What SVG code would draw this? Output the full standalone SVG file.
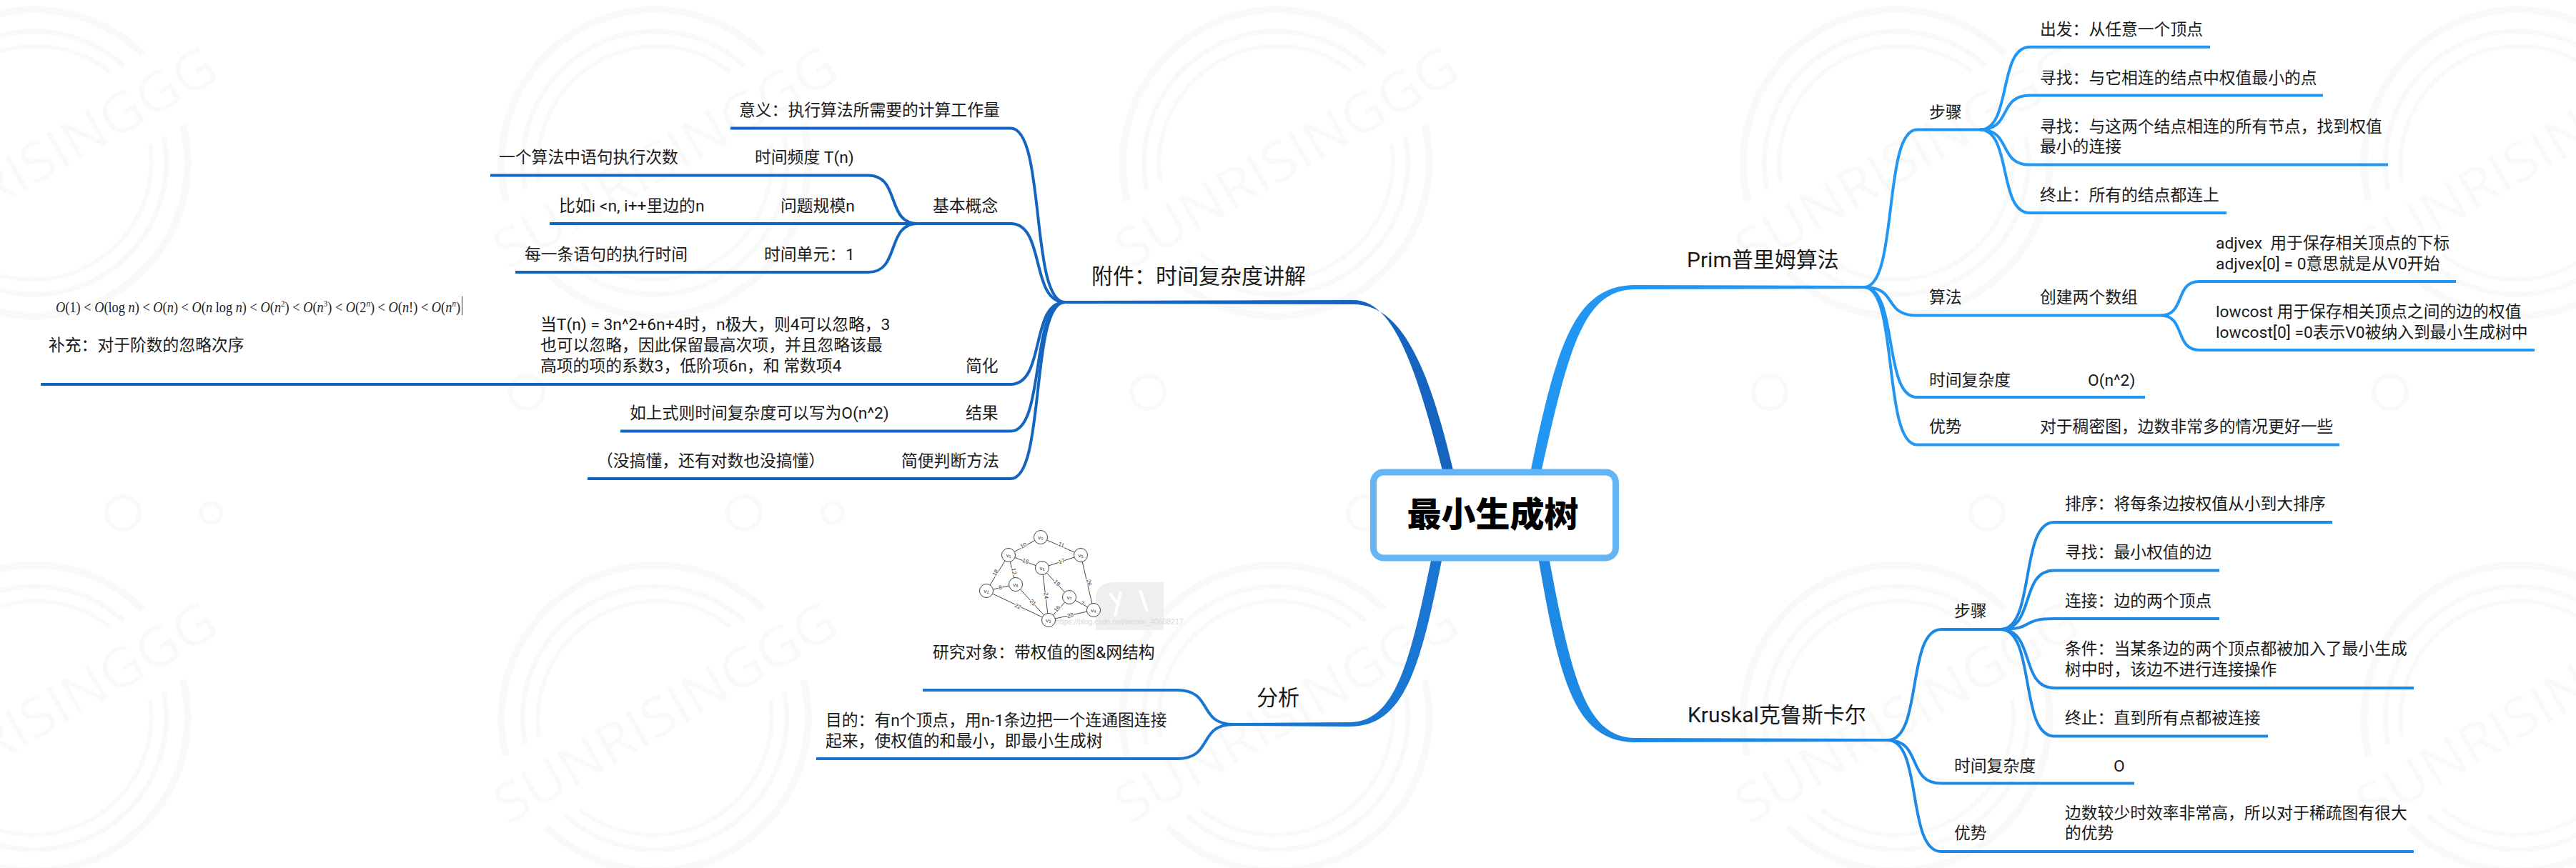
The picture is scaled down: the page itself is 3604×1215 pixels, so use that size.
<svg xmlns="http://www.w3.org/2000/svg" xmlns:xlink="http://www.w3.org/1999/xlink" width="3604" height="1215" viewBox="0 0 3604 1215">
<style>
text{font-family:Roboto,"Noto Sans CJK SC","Noto Sans",sans-serif;fill:#1a1a1a}
.t{font-size:22.8px}
.h{font-size:30px}
.r{font-size:48px;font-weight:900;text-anchor:middle;fill:#000}
.wm path,.wm circle{fill:none;stroke:#f9f9f9;stroke-linecap:butt}
.wm text{font-family:"Open Sans",sans-serif;font-size:76px;fill:#f9f9f9;text-anchor:middle}
.c{fill:none;stroke-width:4}
.a{stroke:#1565c0}.p{stroke:#2196f3}.k{stroke:#1e88e5}.f{stroke:#1976d2}
.g line{stroke:#444;stroke-width:1}
.g circle{fill:#fff;stroke:#444;stroke-width:1}
.g text{font-family:"Liberation Sans",sans-serif;font-size:8px;fill:#333;text-anchor:middle}
.g .e{paint-order:stroke;stroke:#fff;stroke-width:2px}
.fm{font-family:"Liberation Serif",serif;font-size:20px;fill:#222}
.fm .i{font-style:italic}
.fm .s{font-size:12px}
</style>
<defs>
<g id="wmt" class="wm">
<path stroke-width="10" d="M-208,53A215,215 0 0 1 152,-152M208,-53A215,215 0 0 1 -152,152"/>
<path stroke-width="7" d="M-181,37A185,185 0 0 1 125,-136M181,-37A185,185 0 0 1 -125,136"/>
<path stroke-width="6" d="M-162,26A166,166 0 0 1 105,-128M162,-26A166,166 0 0 1 -105,128"/>
<text transform="translate(15,-7) rotate(-30)" y="26" textLength="540" lengthAdjust="spacingAndGlyphs">SUNRISINGGG</text>
</g>
<circle id="wmo" class="wm" r="23" style="fill:none;stroke:#f9f9f9;stroke-width:6"/>
<circle id="wmq" class="wm" r="14" style="fill:none;stroke:#f9f9f9;stroke-width:6"/>
</defs>
<rect width="3604" height="1215" fill="#fff"/>
<g id="watermark">
<use href="#wmt" x="48" y="228"/><use href="#wmt" x="916" y="228"/><use href="#wmt" x="1785" y="228"/><use href="#wmt" x="2653" y="228"/><use href="#wmt" x="3522" y="228"/>
<use href="#wmt" x="48" y="1005"/><use href="#wmt" x="916" y="1005"/><use href="#wmt" x="1785" y="1005"/><use href="#wmt" x="2653" y="1005"/><use href="#wmt" x="3522" y="1005"/>
<use href="#wmo" x="737" y="549"/><use href="#wmo" x="1606" y="549"/><use href="#wmo" x="2476" y="549"/><use href="#wmo" x="3344" y="549"/>
<use href="#wmo" x="172" y="718"/><use href="#wmo" x="1041" y="718"/><use href="#wmo" x="1909" y="718"/><use href="#wmo" x="2780" y="718"/>
<use href="#wmq" x="295" y="718"/><use href="#wmq" x="1165" y="718"/>
</g>
<g id="connectors">
<path fill="#1565c0" d="M2019,662C1979,505 1948,420 1893,420L1490,421V425L1893,426C1955,426 1995,495 2034,662Z"/>
<path fill="#2196f3" d="M2141,662C2178,480 2204,399 2288,399L2608,400V404L2288,405C2216,405 2195,485 2156,662Z"/>
<path fill="#1e88e5" d="M2152,780C2182,955 2204,1039 2288,1039L2641,1038V1034L2288,1033C2218,1033 2198,945 2167,780Z"/>
<path fill="#1976d2" d="M2003,780C1973,925 1953,1011 1888,1011L1726,1012V1016L1888,1017C1965,1017 1987,935 2018,780Z"/>
<g class="a">
<path class="c" d="M1022,179.5H1414C1463,179.5 1441,423 1490,423"/>
<path class="c" d="M1284,313H1414C1463,313 1441,423 1490,423"/>
<path class="c" d="M57,538H1414C1463,538 1441,423 1490,423"/>
<path class="c" d="M868,603.5H1414C1463,603.5 1441,423 1490,423"/>
<path class="c" d="M822,670H1414C1463,670 1441,423 1490,423"/>
<path class="c" d="M686,245.5H1215C1260,245.5 1239,313 1284,313"/>
<path class="c" d="M769,313H1284"/>
<path class="c" d="M721,381H1215C1260,381 1239,313 1284,313"/>
</g>
<g class="f">
<path class="c" d="M1291,966H1647C1698,966 1675,1014 1726,1014"/>
<path class="c" d="M1142,1062H1647C1698,1062 1675,1014 1726,1014"/>
</g>
<g class="p">
<path class="c" d="M2608,402C2656,402 2634,181.6 2682,181.6H2770"/>
<path class="c" d="M2608,402C2656,402 2634,441.6 2682,441.6H3023"/>
<path class="c" d="M2608,402C2656,402 2634,556 2682,556H3001"/>
<path class="c" d="M2608,402C2656,402 2634,622.5 2682,622.5H3273"/>
<path class="c" d="M2770,181.6C2815,181.6 2795,65.7 2840,65.7H3092"/>
<path class="c" d="M2770,181.6C2815,181.6 2795,133.5 2840,133.5H3250"/>
<path class="c" d="M2770,181.6C2815,181.6 2795,230.6 2840,230.6H3341"/>
<path class="c" d="M2770,181.6C2815,181.6 2795,298 2840,298H3115"/>
<path class="c" d="M3023,441.6C3058,441.6 3042,394 3077,394H3436"/>
<path class="c" d="M3023,441.6C3058,441.6 3042,490 3077,490H3546"/>
</g>
<g class="k">
<path class="c" d="M2641,1036C2690,1036 2667,881 2716,881H2799"/>
<path class="c" d="M2641,1036C2690,1036 2667,1096.5 2716,1096.5H2986"/>
<path class="c" d="M2641,1036C2690,1036 2667,1192 2716,1192H3377"/>
<path class="c" d="M2799,881C2848,881 2825,731 2874,731H3263"/>
<path class="c" d="M2799,881C2848,881 2825,798.4 2874,798.4H3105"/>
<path class="c" d="M2799,881C2848,881 2825,866 2874,866H3105"/>
<path class="c" d="M2799,881C2848,881 2825,963 2874,963H3377"/>
<path class="c" d="M2799,881C2848,881 2825,1030.5 2874,1030.5H3173"/>
</g>
</g>
<g id="root">
<rect x="1921.5" y="661" width="339" height="120" rx="14" fill="#fff" stroke="#64b5f6" stroke-width="9"/>
<text class="r" x="2088.5" y="737">最小生成树</text>
</g>
<g id="n-fujian"><text class="h" x="1527" y="397">附件：时间复杂度讲解</text></g>
<g id="n-yiyi"><text class="t" x="1034" y="162">意义：执行算法所需要的计算工作量</text></g>
<g id="n-jiben"><text class="t" x="1305" y="296">基本概念</text></g>
<g id="n-pindu"><text class="t" x="1056" y="228">时间频度 T(n)</text></g>
<g id="n-pindu2"><text class="t" x="698" y="228">一个算法中语句执行次数</text></g>
<g id="n-guimo"><text class="t" x="1092" y="296">问题规模n</text></g>
<g id="n-guimo2"><text class="t" x="782" y="296">比如i &lt;n, i++里边的n</text></g>
<g id="n-danyuan"><text class="t" x="1069" y="364">时间单元：1</text></g>
<g id="n-danyuan2"><text class="t" x="734" y="364">每一条语句的执行时间</text></g>
<g id="n-jianhua"><text class="t" x="1351" y="520">简化</text></g>
<g id="n-jianhua2"><text class="t" x="756" y="462">当T(n) = 3n^2+6n+4时，n极大，则4可以忽略，3</text><text class="t" x="756" y="491">也可以忽略，因此保留最高次项，并且忽略该最</text><text class="t" x="756" y="520">高项的项的系数3，低阶项6n，和 常数项4</text></g>
<g id="n-buchong">
<text class="fm" x="78" y="437" textLength="566" lengthAdjust="spacingAndGlyphs"><tspan class="i">O</tspan>(1) &lt; <tspan class="i">O</tspan>(log <tspan class="i">n</tspan>) &lt; <tspan class="i">O</tspan>(<tspan class="i">n</tspan>) &lt; <tspan class="i">O</tspan>(<tspan class="i">n</tspan> log <tspan class="i">n</tspan>) &lt; <tspan class="i">O</tspan>(<tspan class="i">n</tspan><tspan class="s" dy="-8">2</tspan><tspan dy="8">) &lt; </tspan><tspan class="i">O</tspan>(<tspan class="i">n</tspan><tspan class="s" dy="-8">3</tspan><tspan dy="8">) &lt; </tspan><tspan class="i">O</tspan>(2<tspan class="s i" dy="-8">n</tspan><tspan dy="8">) &lt; </tspan><tspan class="i">O</tspan>(<tspan class="i">n</tspan>!) &lt; <tspan class="i">O</tspan>(<tspan class="i">n</tspan><tspan class="s i" dy="-8">n</tspan><tspan dy="8">)</tspan></text>
<rect x="646" y="415" width="1" height="26" fill="#333"/>
<text class="t" x="68" y="491">补充：对于阶数的忽略次序</text>
</g>
<g id="n-jieguo"><text class="t" x="1351" y="586">结果</text></g>
<g id="n-jieguo2"><text class="t" x="881" y="586">如上式则时间复杂度可以写为O(n^2)</text></g>
<g id="n-jianbian"><text class="t" x="1261" y="653">简便判断方法</text></g>
<g id="n-jianbian2"><text class="t" x="835" y="653">（没搞懂，还有对数也没搞懂）</text></g>
<g id="n-fenxi"><text class="h" x="1758" y="987">分析</text></g>
<g id="n-duixiang">
<g class="g" id="graph-picture">
<path d="M1533,882V835Q1535,815 1560,815H1628V882Z" fill="#efefef" stroke="none"/>
<path d="M1552,830l14,18M1568,828l-8,34M1595,826l10,30" fill="none" stroke="#fff" stroke-width="4"/>
<line x1="1456" y1="752" x2="1411" y2="777"/><line x1="1456" y1="752" x2="1512" y2="777"/><line x1="1411" y1="777" x2="1458" y2="795"/><line x1="1512" y1="777" x2="1458" y2="795"/><line x1="1411" y1="777" x2="1380" y2="827"/><line x1="1411" y1="777" x2="1421" y2="818"/><line x1="1380" y1="827" x2="1421" y2="818"/><line x1="1380" y1="827" x2="1467" y2="868"/><line x1="1421" y1="818" x2="1467" y2="868"/><line x1="1458" y1="795" x2="1467" y2="868"/><line x1="1458" y1="795" x2="1496" y2="836"/><line x1="1496" y1="836" x2="1467" y2="868"/><line x1="1496" y1="836" x2="1530" y2="854"/><line x1="1467" y1="868" x2="1530" y2="854"/><line x1="1512" y1="777" x2="1530" y2="854"/>
<circle cx="1456" cy="752" r="9.5"/><circle cx="1411" cy="777" r="9.5"/><circle cx="1512" cy="777" r="9.5"/><circle cx="1458" cy="795" r="9.5"/><circle cx="1380" cy="827" r="9.5"/><circle cx="1421" cy="818" r="9.5"/><circle cx="1496" cy="836" r="9.5"/><circle cx="1530" cy="854" r="9.5"/><circle cx="1467" cy="868" r="9.5"/>
<text x="1456" y="755">v₀</text><text x="1411" y="780">v₁</text><text x="1512" y="780">v₅</text><text x="1458" y="798">v₆</text><text x="1380" y="830">v₂</text><text x="1421" y="821">v₈</text><text x="1496" y="839">v₇</text><text x="1530" y="857">v₄</text><text x="1467" y="871">v₃</text>
<text class="e" transform="translate(1433,766) rotate(-25)">10</text><text class="e" transform="translate(1484,765) rotate(20)">11</text><text class="e" transform="translate(1434,788) rotate(18)">16</text><text class="e" transform="translate(1486,788) rotate(-18)">17</text><text class="e" transform="translate(1395,803) rotate(-60)">18</text><text class="e" transform="translate(1416,800) rotate(80)">12</text><text class="e" transform="translate(1400,825) rotate(-12)">8</text><text class="e" transform="translate(1423,851) rotate(25)">22</text><text class="e" transform="translate(1443,845) rotate(48)">21</text><text class="e" transform="translate(1461,834) rotate(85)">24</text><text class="e" transform="translate(1477,818) rotate(45)">19</text><text class="e" transform="translate(1481,854) rotate(-48)">16</text><text class="e" transform="translate(1513,847) rotate(28)">7</text><text class="e" transform="translate(1498,864) rotate(-12)">20</text><text class="e" transform="translate(1521,816) rotate(76)">26</text>
<text x="1477" y="874" style="font-size:10.5px;text-anchor:start;fill:#d8d8d8">https://blog.csdn.net/weixin_40688217</text>
</g>
<text class="t" x="1305" y="921">研究对象：带权值的图&amp;网结构</text>
</g>
<g id="n-mudi"><text class="t" x="1155" y="1016">目的：有n个顶点，用n-1条边把一个连通图连接</text><text class="t" x="1155" y="1045">起来，使权值的和最小，即最小生成树</text></g>
<g id="n-prim"><text class="h" x="2360" y="374">Prim普里姆算法</text></g>
<g id="n-p-buzhou"><text class="t" x="2699" y="165">步骤</text></g>
<g id="n-p-chufa"><text class="t" x="2854" y="49">出发：从任意一个顶点</text></g>
<g id="n-p-xun1"><text class="t" x="2854" y="117">寻找：与它相连的结点中权值最小的点</text></g>
<g id="n-p-xun2"><text class="t" x="2854" y="185">寻找：与这两个结点相连的所有节点，找到权值</text><text class="t" x="2854" y="213">最小的连接</text></g>
<g id="n-p-zhong"><text class="t" x="2854" y="281">终止：所有的结点都连上</text></g>
<g id="n-p-suanfa"><text class="t" x="2699" y="424">算法</text></g>
<g id="n-p-shuzu"><text class="t" x="2854" y="424">创建两个数组</text></g>
<g id="n-p-adj"><text class="t" x="3100" y="348" xml:space="preserve">adjvex  用于保存相关顶点的下标</text><text class="t" x="3100" y="377">adjvex[0] = 0意思就是从V0开始</text></g>
<g id="n-p-low"><text class="t" x="3100" y="444">lowcost 用于保存相关顶点之间的边的权值</text><text class="t" x="3100" y="473">lowcost[0] =0表示V0被纳入到最小生成树中</text></g>
<g id="n-p-shijian"><text class="t" x="2699" y="540">时间复杂度</text></g>
<g id="n-p-on2"><text class="t" x="2921" y="540">O(n^2)</text></g>
<g id="n-p-youshi"><text class="t" x="2699" y="605">优势</text></g>
<g id="n-p-youshi2"><text class="t" x="2854" y="605">对于稠密图，边数非常多的情况更好一些</text></g>
<g id="n-kruskal"><text class="h" x="2361" y="1011">Kruskal克鲁斯卡尔</text></g>
<g id="n-k-buzhou"><text class="t" x="2734" y="863">步骤</text></g>
<g id="n-k-paixu"><text class="t" x="2889" y="713">排序：将每条边按权值从小到大排序</text></g>
<g id="n-k-xun"><text class="t" x="2889" y="781">寻找：最小权值的边</text></g>
<g id="n-k-lian"><text class="t" x="2889" y="849">连接：边的两个顶点</text></g>
<g id="n-k-tiao"><text class="t" x="2889" y="916">条件：当某条边的两个顶点都被加入了最小生成</text><text class="t" x="2889" y="945">树中时，该边不进行连接操作</text></g>
<g id="n-k-zhong"><text class="t" x="2889" y="1013">终止：直到所有点都被连接</text></g>
<g id="n-k-shijian"><text class="t" x="2734" y="1080">时间复杂度</text></g>
<g id="n-k-o"><text class="t" x="2957" y="1080">O</text></g>
<g id="n-k-youshi"><text class="t" x="2734" y="1174">优势</text></g>
<g id="n-k-youshi2"><text class="t" x="2889" y="1146">边数较少时效率非常高，所以对于稀疏图有很大</text><text class="t" x="2889" y="1174">的优势</text></g>
</svg>
